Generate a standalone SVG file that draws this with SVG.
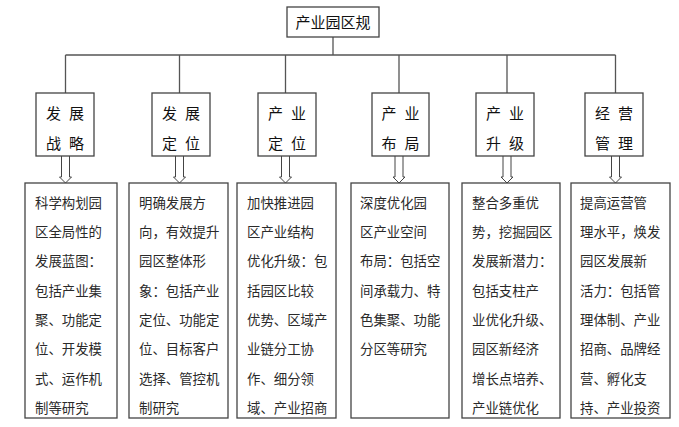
<svg xmlns="http://www.w3.org/2000/svg" width="679" height="427" viewBox="0 0 679 427">
<style>
.box{fill:#fff;stroke:#444;stroke-width:1.3}
.ln{fill:none;stroke:#555;stroke-width:1.3}
.arr{fill:#fff;stroke:#444;stroke-width:1}
.t{font-family:"Noto Sans CJK SC","Noto Sans CJK TC",sans-serif;fill:#111}
.h{font-size:15px}
.s{font-size:15px}
.b{font-size:13.4px;fill:#2a2a2a}
</style>
<rect width="679" height="427" fill="#fff"/>
<g id="connectors">
<path class="ln" d="M333 37V55M65.5 55H615.5M65.5 55V93M179.5 55V93M285.5 55V93M399 55V93M507 55V93M615.5 55V93"/>
<path class="arr" d="M61.5 156V177H59.5L65.5 183L71.5 177H69.5V156"/>
<path class="arr" d="M175.5 156V177H173.5L179.5 183L185.5 177H183.5V156"/>
<path class="arr" d="M281.5 156V177H279.5L285.5 183L291.5 177H289.5V156"/>
<path class="arr" d="M395 156V177H393L399 183L405 177H403V156"/>
<path class="arr" d="M503 156V177H501L507 183L513 177H511V156"/>
<path class="arr" d="M611.5 156V177H609.5L615.5 183L621.5 177H619.5V156"/>
</g>
<g id="root">
<rect class="box" x="287" y="7" width="92" height="30"/>
<text class="t h" x="333" y="27.5" text-anchor="middle">产业园区规</text>
</g>
<g id="n1">
<rect class="box" x="36" y="93" width="58" height="63"/>
<text class="t s" x="46 69" y="118.5">发展</text>
<text class="t s" x="46 69" y="148.5">战略</text>
</g>
<g id="n2">
<rect class="box" x="152" y="93" width="58" height="63"/>
<text class="t s" x="162 185" y="118.5">发展</text>
<text class="t s" x="162 185" y="148.5">定位</text>
</g>
<g id="n3">
<rect class="box" x="258" y="93" width="58" height="63"/>
<text class="t s" x="268 291" y="118.5">产业</text>
<text class="t s" x="268 291" y="148.5">定位</text>
</g>
<g id="n4">
<rect class="box" x="372" y="93" width="57" height="63"/>
<text class="t s" x="381.5 404.5" y="118.5">产业</text>
<text class="t s" x="381.5 404.5" y="148.5">布局</text>
</g>
<g id="n5">
<rect class="box" x="476" y="93" width="58" height="63"/>
<text class="t s" x="486 509" y="118.5">产业</text>
<text class="t s" x="486 509" y="148.5">升级</text>
</g>
<g id="n6">
<rect class="box" x="585" y="93" width="58" height="63"/>
<text class="t s" x="595 618" y="118.5">经营</text>
<text class="t s" x="595 618" y="148.5">管理</text>
</g>
<g id="d1">
<rect class="box" x="25" y="183" width="92" height="235"/>
<g class="t b">
<text x="35" y="207.7">科学构划园</text>
<text x="35" y="237">区全局性的</text>
<text x="35" y="266.3">发展蓝图：</text>
<text x="35" y="295.6">包括产业集</text>
<text x="35" y="324.9">聚、功能定</text>
<text x="35" y="354.2">位、开发模</text>
<text x="35" y="383.5">式、运作机</text>
<text x="35" y="412.8">制等研究</text>
</g>
</g>
<g id="d2">
<rect class="box" x="129" y="183" width="99" height="235"/>
<g class="t b">
<text x="139" y="207.7">明确发展方</text>
<text x="139" y="237">向，有效提升</text>
<text x="139" y="266.3">园区整体形</text>
<text x="139" y="295.6">象：包括产业</text>
<text x="139" y="324.9">定位、功能定</text>
<text x="139" y="354.2">位、目标客户</text>
<text x="139" y="383.5">选择、管控机</text>
<text x="139" y="412.8">制研究</text>
</g>
</g>
<g id="d3">
<rect class="box" x="237" y="183" width="99" height="235"/>
<g class="t b">
<text x="247" y="207.7">加快推进园</text>
<text x="247" y="237">区产业结构</text>
<text x="247" y="266.3">优化升级：包</text>
<text x="247" y="295.6">括园区比较</text>
<text x="247" y="324.9">优势、区域产</text>
<text x="247" y="354.2">业链分工协</text>
<text x="247" y="383.5">作、细分领</text>
<text x="247" y="412.8">域、产业招商</text>
</g>
</g>
<g id="d4">
<rect class="box" x="351" y="183" width="98" height="235"/>
<g class="t b">
<text x="360" y="207.7">深度优化园</text>
<text x="360" y="237">区产业空间</text>
<text x="360" y="266.3">布局：包括空</text>
<text x="360" y="295.6">间承载力、特</text>
<text x="360" y="324.9">色集聚、功能</text>
<text x="360" y="354.2">分区等研究</text>
</g>
</g>
<g id="d5">
<rect class="box" x="462" y="183" width="98" height="235"/>
<g class="t b">
<text x="472" y="207.7">整合多重优</text>
<text x="472" y="237">势，挖掘园区</text>
<text x="472" y="266.3">发展新潜力：</text>
<text x="472" y="295.6">包括支柱产</text>
<text x="472" y="324.9">业优化升级、</text>
<text x="472" y="354.2">园区新经济</text>
<text x="472" y="383.5">增长点培养、</text>
<text x="472" y="412.8">产业链优化</text>
</g>
</g>
<g id="d6">
<rect class="box" x="571" y="183" width="99" height="235"/>
<g class="t b">
<text x="580" y="207.7">提高运营管</text>
<text x="580" y="237">理水平，焕发</text>
<text x="580" y="266.3">园区发展新</text>
<text x="580" y="295.6">活力：包括管</text>
<text x="580" y="324.9">理体制、产业</text>
<text x="580" y="354.2">招商、品牌经</text>
<text x="580" y="383.5">营、孵化支</text>
<text x="580" y="412.8">持、产业投资</text>
</g>
</g>
</svg>
